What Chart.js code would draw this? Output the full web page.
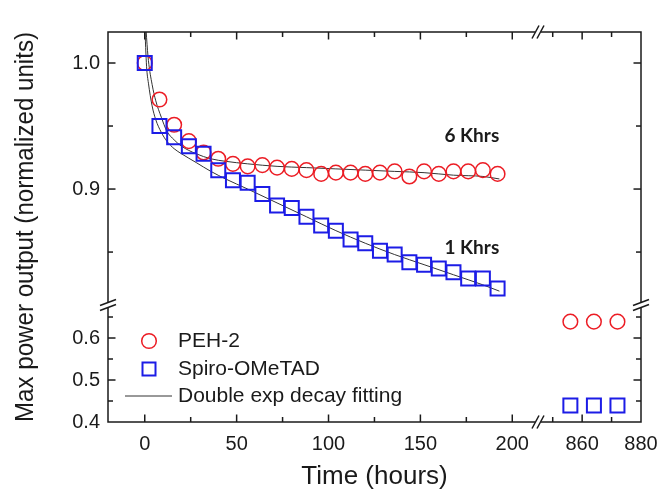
<!DOCTYPE html>
<html>
<head>
<meta charset="utf-8">
<script src="https://cdn.jsdelivr.net/npm/chart.js@4/dist/chart.umd.min.js"></script>
<style>
  body { margin: 0; background: #fff; }
  #chart { display: block; }
</style>
</head>
<body>
<canvas id="chart" width="659" height="494"></canvas>
<script>
// measured hours (left panel) and normalized max power output
const hours = [0, 8, 16, 24, 32, 40, 48, 56, 64, 72, 80, 88, 96, 104, 112, 120, 128, 136, 144, 152, 160, 168, 176, 184, 192];
const peh2 = [1.000, 0.971, 0.951, 0.938, 0.929, 0.924, 0.920, 0.918, 0.919, 0.917, 0.916, 0.915, 0.912, 0.913, 0.913, 0.912, 0.913, 0.914, 0.910, 0.914, 0.912, 0.914, 0.914, 0.915, 0.912];
const spiro = [1.000, 0.950, 0.941, 0.934, 0.928, 0.915, 0.907, 0.905, 0.896, 0.887, 0.885, 0.878, 0.871, 0.867, 0.860, 0.857, 0.851, 0.848, 0.842, 0.840, 0.837, 0.834, 0.829, 0.829, 0.821];

// late points (right panel)
const lateHours = [856, 864, 872];
const peh2Late = [0.639, 0.639, 0.639];
const spiroLate = [0.439, 0.439, 0.439];

// double exponential fits
const fitHours = [0, 1, 2, 4, 6, 9, 12, 16, 20, 28, 36, 44, 56, 72, 88, 104, 120, 136, 152, 168, 184, 193];
const fitPeh2 = [1.045, 1.020, 1.002, 0.983, 0.970, 0.957, 0.946, 0.939, 0.934, 0.928, 0.924, 0.922, 0.920, 0.918, 0.917, 0.916, 0.915, 0.914, 0.913, 0.911, 0.910, 0.908];
const fitSpiro = [1.030, 0.997, 0.984, 0.966, 0.955, 0.945, 0.938, 0.932, 0.928, 0.921, 0.914, 0.908, 0.900, 0.889, 0.878, 0.867, 0.857, 0.848, 0.840, 0.832, 0.824, 0.819];

// ticks and tick labels
const xTicksLeft = [0, 25, 50, 75, 100, 125, 150, 175, 200];
const xLabelsLeft = [0, 50, 100, 150, 200];
const xTicksRight = [850, 860, 870, 880];
const xLabelsRight = [860, 880];
const yTicksTop = [0.85, 0.9, 0.95, 1.0];
const yLabelsTop = [0.9, 1.0];
const yTicksBottom = [0.4, 0.45, 0.5, 0.55, 0.6, 0.65];
const yLabelsBottom = [0.4, 0.5, 0.6];

// text notes next to the curves
const notes = ['6 Khrs', '1 Khrs'];
const noteHours = [178, 178];
const noteValues = [0.942, 0.853];

const legendNames = ['PEH-2', 'Spiro-OMeTAD', 'Double exp decay fitting'];

const RED = 'rgb(236,28,36)';
const BLUE = 'rgb(28,28,230)';
const FIT = '#333';
const INK = '#1a1a1a';

Chart.defaults.font.family = '"Liberation Sans", Arial, sans-serif';
Chart.defaults.color = INK;

const toXY = (xs, ys) => xs.map((x, i) => ({ x, y: ys[i] }));
const has = (list, v) => list.some(l => Math.abs(l - v) < 1e-9);

function marker(color, style, radius, width) {
  return {
    pointStyle: style, pointRadius: radius, pointHoverRadius: radius,
    pointBorderColor: color, borderColor: color,
    pointBorderWidth: width, borderWidth: width,
    pointBackgroundColor: 'rgba(0,0,0,0)', backgroundColor: 'rgba(0,0,0,0)',
    showLine: false
  };
}

function xAxis(min, max, ticks, labels, weight, stackWeight) {
  return {
    type: 'linear', position: 'bottom', stack: 'x', stackWeight, weight,
    min, max,
    grid: { display: false, drawTicks: false }, border: { display: false },
    ticks: {
      autoSkip: false, maxRotation: 0,
      padding: 10, font: { size: 20 }, color: INK,
      callback: v => has(labels, v) ? String(v) : ''
    },
    afterBuildTicks: s => { s.ticks = ticks.map(value => ({ value })); },
    afterFit: s => { s.height = 34; s.paddingLeft = 0; s.paddingRight = 0; }
  };
}

function yAxis(min, max, ticks, labels, weight, stackWeight) {
  return {
    type: 'linear', position: 'left', stack: 'y', stackWeight, weight,
    min, max,
    grid: { display: false, drawTicks: false }, border: { display: false },
    ticks: {
      autoSkip: false,
      padding: 8, font: { size: 20 }, color: INK,
      callback: v => has(labels, v) ? v.toFixed(1) : ''
    },
    afterBuildTicks: s => { s.ticks = ticks.map(value => ({ value })); },
    afterFit: s => { s.width = 56.8; s.paddingTop = 0; s.paddingBottom = 0; }
  };
}

function seg(ctx, x1, y1, x2, y2) {
  ctx.beginPath(); ctx.moveTo(x1, y1); ctx.lineTo(x2, y2); ctx.stroke();
}

// frame, inward ticks on all sides, axis breaks, legend, notes
const framePlugin = {
  id: 'frame',
  afterDatasetsDraw(chart) {
    const { ctx, chartArea: a, scales } = chart;
    ctx.save();
    ctx.strokeStyle = INK;
    ctx.lineWidth = 1.5;
    ctx.strokeRect(a.left, a.top, a.right - a.left, a.bottom - a.top);

    [['xL', xTicksLeft, xLabelsLeft], ['xR', xTicksRight, xLabelsRight]].forEach(([id, ticks, labels]) => {
      const s = scales[id];
      ticks.forEach(v => {
        const x = s.getPixelForValue(v);
        if (x <= a.left + 1 || x >= a.right - 1) return;
        const len = has(labels, v) ? 7.5 : 5;
        seg(ctx, x, a.bottom, x, a.bottom - len);
        seg(ctx, x, a.top, x, a.top + len);
      });
    });
    [['yU', yTicksTop, yLabelsTop], ['yD', yTicksBottom, yLabelsBottom]].forEach(([id, ticks, labels]) => {
      const s = scales[id];
      ticks.forEach(v => {
        const y = s.getPixelForValue(v);
        if (y <= a.top + 1 || y >= a.bottom - 1) return;
        const len = has(labels, v) ? 7.5 : 5;
        seg(ctx, a.left, y, a.left + len, y);
        seg(ctx, a.right, y, a.right - len, y);
      });
    });

    // breaks
    const bx = scales.xL.right;
    const by = scales.yU.bottom;
    ctx.fillStyle = '#fff';
    [a.bottom, a.top].forEach(y => {
      ctx.fillRect(bx - 3, y - 3, 6, 6);
      [-2.5, 2.5].forEach(k => seg(ctx, bx + k - 3.5, y + 6.5, bx + k + 3.5, y - 6.5));
    });
    [a.left, a.right].forEach(x => {
      ctx.fillRect(x - 3, by - 3, 6, 6);
      [-2.5, 2.5].forEach(k => seg(ctx, x - 8, by + k + 3, x + 8, by + k - 3));
    });

    // legend
    const lx = a.left + 41;
    const tx = a.left + 70;
    const rows = [a.bottom - 81, a.bottom - 53, a.bottom - 26];
    ctx.lineWidth = 1.5;
    ctx.strokeStyle = RED;
    ctx.beginPath(); ctx.arc(lx, rows[0], 7.3, 0, Math.PI * 2); ctx.stroke();
    ctx.lineWidth = 2;
    ctx.strokeStyle = BLUE;
    ctx.strokeRect(lx - 6.5, rows[1] - 6.5, 13, 13);
    ctx.lineWidth = 1;
    ctx.strokeStyle = FIT;
    seg(ctx, lx - 24, rows[2], lx + 23, rows[2]);
    ctx.fillStyle = INK;
    ctx.font = '21px "Liberation Sans", Arial, sans-serif';
    ctx.textBaseline = 'middle';
    ctx.textAlign = 'left';
    legendNames.forEach((n, i) => ctx.fillText(n, tx, rows[i]));

    // notes
    ctx.font = 'bold 19px Lato, "Open Sans", sans-serif';
    ctx.textAlign = 'center';
    notes.forEach((n, i) => {
      ctx.fillText(n, scales.xL.getPixelForValue(noteHours[i]), scales.yU.getPixelForValue(noteValues[i]));
    });
    ctx.restore();
  }
};

new Chart(document.getElementById('chart'), {
  type: 'scatter',
  data: {
    datasets: [
      { label: 'Spiro-OMeTAD', data: toXY(hours, spiro), xAxisID: 'xL', yAxisID: 'yU', ...marker(BLUE, 'rect', 9.9, 2) },
      { label: 'PEH-2', data: toXY(hours, peh2), xAxisID: 'xL', yAxisID: 'yU', ...marker(RED, 'circle', 7.3, 1.5) },
      { label: 'Spiro-OMeTAD late', data: toXY(lateHours, spiroLate), xAxisID: 'xR', yAxisID: 'yD', ...marker(BLUE, 'rect', 9.9, 2) },
      { label: 'PEH-2 late', data: toXY(lateHours, peh2Late), xAxisID: 'xR', yAxisID: 'yD', ...marker(RED, 'circle', 7.3, 1.5) },
      {
        label: 'Fit PEH-2', data: toXY(fitHours, fitPeh2), xAxisID: 'xL', yAxisID: 'yU',
        showLine: true, pointRadius: 0, borderColor: FIT, borderWidth: 1, cubicInterpolationMode: 'monotone'
      },
      {
        label: 'Fit Spiro-OMeTAD', data: toXY(fitHours, fitSpiro), xAxisID: 'xL', yAxisID: 'yU',
        showLine: true, pointRadius: 0, borderColor: FIT, borderWidth: 1, cubicInterpolationMode: 'monotone'
      }
    ]
  },
  options: {
    responsive: false,
    animation: false,
    layout: { padding: { top: 32, right: 18, left: 0, bottom: 0 } },
    scales: {
      xL: xAxis(-20, 214, xTicksLeft, xLabelsLeft, 1, 430),
      xR: xAxis(845, 880, xTicksRight, xLabelsRight, 2, 103),
      yU: yAxis(0.808, 1.0246, yTicksTop, yLabelsTop, 2, 273),
      yD: yAxis(0.4, 0.6786, yTicksBottom, yLabelsBottom, 1, 117)
    },
    plugins: {
      legend: { display: false },
      tooltip: { enabled: false },
      title: {
        display: true, position: 'left', fullSize: false,
        text: 'Max power output (normalized units)',
        font: { size: 26, weight: 'normal' }, color: INK, padding: 10
      },
      subtitle: {
        display: true, position: 'bottom', fullSize: false,
        text: 'Time (hours)',
        font: { size: 26, weight: 'normal' }, color: INK,
        padding: { top: 5.4, bottom: 1.4 }
      }
    }
  },
  plugins: [framePlugin]
});
</script>
</body>
</html>
